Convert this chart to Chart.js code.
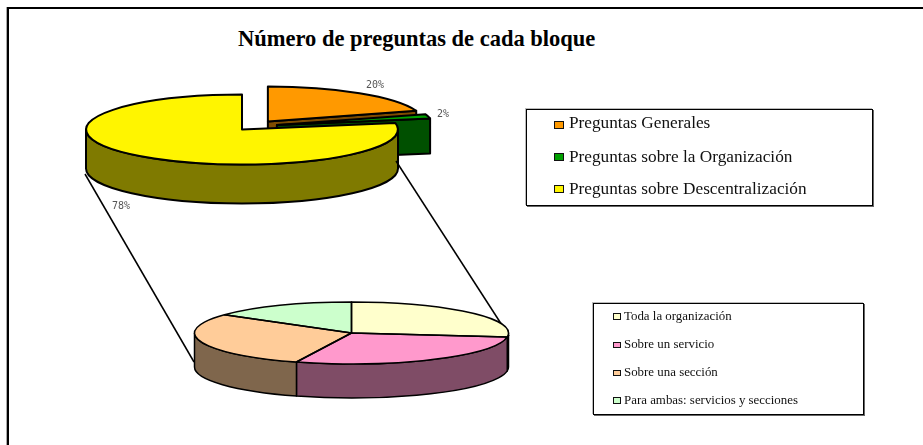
<!DOCTYPE html>
<html lang="es">
<head>
<meta charset="utf-8">
<title>Número de preguntas de cada bloque</title>
<script src="https://cdn.jsdelivr.net/npm/chart.js@4"></script>
<style>
html,body{margin:0;padding:0;background:#fff;overflow:hidden;width:923px;height:445px}
#stage{position:relative;width:923px;height:445px;font-family:"Liberation Serif",serif;color:#000}
#stage canvas{position:absolute;left:0;top:0}
.frameT{position:absolute;left:7px;top:7px;width:916px;height:2px;background:#000}
.frameL{position:absolute;left:7px;top:7px;width:1.5px;height:438px;background:#000;box-shadow:-1px 0 0 #aaa}
#title{position:absolute;left:238px;top:26px;font-weight:bold;font-size:22.5px;line-height:26px;white-space:nowrap}
.legend{position:absolute;box-sizing:border-box;border:1px solid #000;box-shadow:1px 1px 0 #666,-1px -1px 0 #bbb;background:#fff}
.item{position:absolute;white-space:nowrap}
.sw{position:absolute;box-sizing:border-box;border:1.5px solid #111}
</style>
</head>
<body>
<div id="stage">
  <div class="frameT"></div><div class="frameL"></div>
  <div id="title"></div>
  <canvas id="topPie" width="923" height="445"></canvas>
  <canvas id="lowPie" width="923" height="445"></canvas>
  <div class="legend" id="legendTop" style="left:526px;top:109px;width:347px;height:97px"></div>
  <div class="legend" id="legendLow" style="left:593px;top:303px;width:271px;height:112px"></div>
</div>
<script>
const titleText = "Número de preguntas de cada bloque";
const topLabels = ["Preguntas Generales", "Preguntas sobre la Organización", "Preguntas sobre Descentralización"];
const topValues = [20, 2, 78];
const topColors = ["#FF9900", "#00A000", "#FFF500"];
const topExplode = [44, 36, 0];
const lowLabels = ["Toda la organización", "Sobre un servicio", "Sobre una sección", "Para ambas: servicios y secciones"];
const lowValues = [27, 28.7, 29.3, 15];
const lowColors = ["#FFFFCC", "#FF99CC", "#FFCC99", "#CCFFCC"];

function shade(hex){
  const n = parseInt(hex.slice(1), 16);
  return `rgb(${(n>>16&255)>>1},${(n>>8&255)>>1},${(n&255)>>1})`;
}

const pie3d = {
  id: 'pie3d',
  afterDatasetsUpdate(chart, args, o){
    const meta = chart.getDatasetMeta(0);
    const k = o.ry / o.r;
    meta.data.forEach((arc, i) => {
      const e = (o.explode || [])[i] || 0;
      const mid = (arc.startAngle + arc.endAngle) / 2;
      arc.x += Math.cos(mid) * e;
      arc.y += Math.sin(mid) * e - ((o.lift || [])[i] || 0) / k;
    });
  },
  beforeDatasetsDraw(chart, args, o){
    const ctx = chart.ctx, a = chart.chartArea;
    const ax = (a.left + a.right) / 2, ay = (a.top + a.bottom) / 2;
    const k = o.ry / o.r;
    const P = arc => ({x: o.cx + arc.x - ax, y: o.cy + (arc.y - ay) * k, rx: arc.outerRadius, ry: arc.outerRadius * k});
    ctx.save();
    ctx.lineWidth = o.lw; ctx.strokeStyle = '#000'; ctx.lineJoin = 'round';
    if (o.connectors) {
      ctx.lineWidth = 1.5;
      o.connectors.forEach(c => { ctx.beginPath(); ctx.moveTo(c[0], c[1]); ctx.lineTo(c[2], c[3]); ctx.stroke(); });
      ctx.lineWidth = o.lw;
    }
    const colors = chart.data.datasets[0].backgroundColor;
    chart.getDatasetMeta(0).data.forEach((arc, i) => {
      const p = P(arc), d = (o.depths || [])[i] || o.depth;
      const ex = (o.explode || [])[i] || 0;
      ctx.fillStyle = shade(colors[i]);
      if (ex && arc.endAngle > -Math.PI / 2 && arc.endAngle < 0) {
        const ex2 = p.x + Math.cos(arc.endAngle) * p.rx, ey2 = p.y + Math.sin(arc.endAngle) * p.ry;
        ctx.beginPath(); ctx.moveTo(p.x, p.y); ctx.lineTo(ex2, ey2); ctx.lineTo(ex2, ey2 + d); ctx.lineTo(p.x, p.y + d); ctx.closePath();
        ctx.fill(); ctx.stroke();
      }
      const a0 = Math.max(arc.startAngle, 0), a1 = Math.min(arc.endAngle, Math.PI);
      if (a1 > a0) {
        ctx.beginPath();
        ctx.ellipse(p.x, p.y, p.rx, p.ry, 0, a0, a1);
        ctx.ellipse(p.x, p.y + d, p.rx, p.ry, 0, a1, a0, true);
        ctx.closePath(); ctx.fill(); ctx.stroke();
      }
    });
    ctx.restore();
    ctx.save();
    ctx.translate(o.cx, o.cy); ctx.scale(1, k); ctx.translate(-ax, -ay);
  },
  afterDatasetsDraw(chart, args, o){
    const ctx = chart.ctx, a = chart.chartArea;
    ctx.restore();
    const ax = (a.left + a.right) / 2, ay = (a.top + a.bottom) / 2, k = o.ry / o.r;
    ctx.save();
    ctx.lineWidth = o.lw; ctx.strokeStyle = '#000'; ctx.lineJoin = 'round';
    chart.getDatasetMeta(0).data.forEach(arc => {
      const x = o.cx + arc.x - ax, y = o.cy + (arc.y - ay) * k;
      ctx.beginPath(); ctx.moveTo(x, y);
      ctx.ellipse(x, y, arc.outerRadius, arc.outerRadius * k, 0, arc.startAngle, arc.endAngle);
      ctx.closePath(); ctx.stroke();
    });
    if (o.pctLabels) {
      const vals = chart.data.datasets[0].data, tot = vals.reduce((s, v) => s + v, 0);
      ctx.font = '10px "DejaVu Sans Mono", monospace'; ctx.fillStyle = '#555'; ctx.textBaseline = 'alphabetic';
      o.pctLabels.forEach((l, i) => ctx.fillText(Math.round(vals[i] / tot * 100) + '%', l[0], l[1]));
    }
    ctx.restore();
  }
};

function makePie(id, labels, data, colors, opts){
  return new Chart(document.getElementById(id), {
    type: 'pie',
    plugins: [pie3d],
    data: {labels, datasets: [{data, backgroundColor: colors, borderWidth: 0, radius: opts.r, clip: false}]},
    options: {
      responsive: false, animation: false, events: [],
      layout: {padding: 0},
      plugins: {legend: {display: false}, tooltip: {enabled: false}, title: {display: false}, pie3d: opts}
    }
  });
}

makePie('topPie', topLabels, topValues, topColors, {
  cx: 242, cy: 129.5, r: 156, ry: 35, depth: 39, depths: [39, 35, 39], lift: [0, 2.5, 0], lw: 2, explode: topExplode,
  pctLabels: [[366, 88], [437, 117], [112, 209]]
});
makePie('lowPie', lowLabels, lowValues, lowColors, {
  cx: 351.5, cy: 333, r: 157, ry: 31, depth: 34, lw: 1.5,
  connectors: [[85, 174, 194, 362], [396, 161, 509, 336]]
});

document.getElementById('title').textContent = titleText;
function buildLegend(id, labels, colors, cfg){
  const box = document.getElementById(id), o = box.getBoundingClientRect();
  labels.forEach((t, i) => {
    const s = document.createElement('div'); s.className = 'sw';
    s.style.cssText = `left:${cfg.sx - o.left - 1}px;top:${cfg.ys[i] - cfg.sh / 2 - o.top - 1}px;width:${cfg.sw}px;height:${cfg.sh}px;background:${colors[i]}`;
    const l = document.createElement('div'); l.className = 'item'; l.textContent = t;
    const top = cfg.bases[i] - (11 + 0.3375 * cfg.fs);
    l.style.cssText = `left:${cfg.tx - o.left - 1}px;top:${top - o.top - 1}px;font-size:${cfg.fs}px;line-height:22px;color:#111`;
    box.append(s, l);
  });
}
buildLegend('legendTop', topLabels, topColors, {sx: 554, sw: 10, sh: 8, tx: 569, fs: 17.25, ys: [125, 157, 189], bases: [129, 163, 195]});
buildLegend('legendLow', lowLabels, lowColors, {sx: 613, sw: 8, sh: 6.5, tx: 624, fs: 12.9, ys: [316.7, 345, 373, 400.6], bases: [320.5, 348.5, 376, 404.5]});
</script>
</body>
</html>
